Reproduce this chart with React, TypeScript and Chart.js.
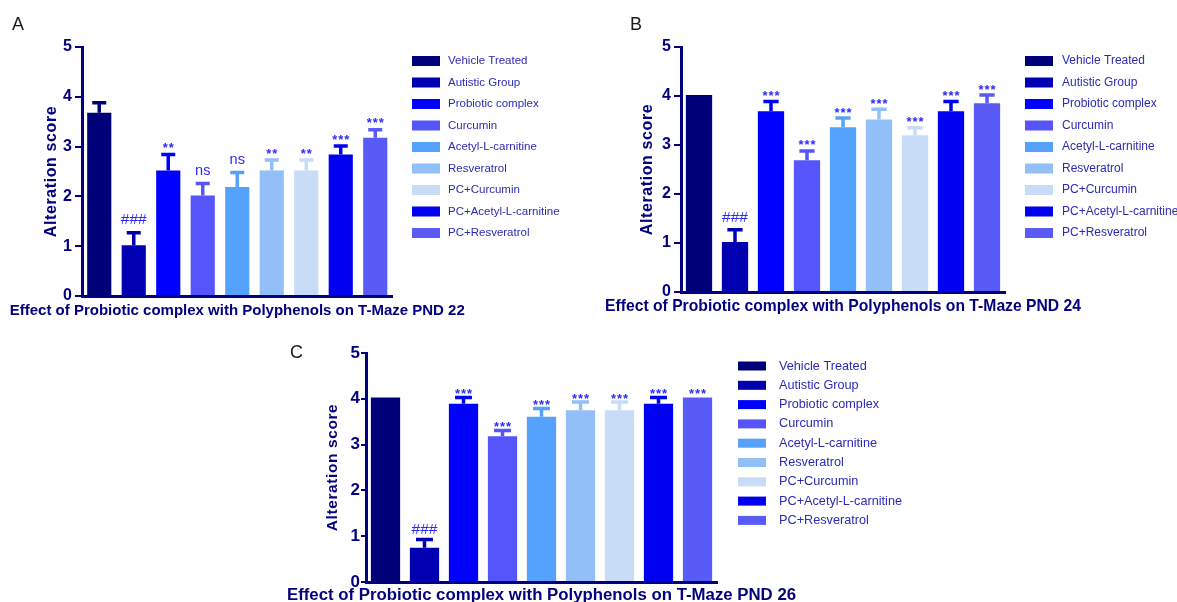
import React, { useEffect, useRef } from "react";
import { Chart, registerables } from "chart.js";

Chart.register(...registerables);

// ---------- data ----------
const categories = [
  "Vehicle Treated",
  "Autistic Group",
  "Probiotic complex",
  "Curcumin",
  "Acetyl-L-carnitine",
  "Resveratrol",
  "PC+Curcumin",
  "PC+Acetyl-L-carnitine",
  "PC+Resveratrol",
];

const barColors = [
  "#000078",
  "#0000b2",
  "#0000ff",
  "#5555fb",
  "#55a2fe",
  "#92bff8",
  "#c8dcf7",
  "#0000f0",
  "#5a5af7",
];

const yTicks = [0, 1, 2, 3, 4, 5];

const meansPND22 = [3.68, 1.02, 2.52, 2.02, 2.19, 2.52, 2.52, 2.84, 3.18];
const semPND22 = [0.2, 0.25, 0.32, 0.24, 0.29, 0.21, 0.21, 0.17, 0.16];
const marksPND22 = ["", "###", "**", "ns", "ns", "**", "**", "***", "***"];

const meansPND24 = [4.02, 1.02, 3.69, 2.69, 3.36, 3.52, 3.2, 3.69, 3.85];
const semPND24 = [0, 0.25, 0.2, 0.19, 0.19, 0.21, 0.15, 0.2, 0.17];
const marksPND24 = ["", "###", "***", "***", "***", "***", "***", "***", "***"];

const meansPND26 = [4.03, 0.75, 3.89, 3.18, 3.61, 3.75, 3.75, 3.89, 4.03];
const semPND26 = [0, 0.18, 0.14, 0.13, 0.18, 0.18, 0.18, 0.14, 0];
const marksPND26 = ["", "###", "***", "***", "***", "***", "***", "***", "***"];

const yAxisTitle = "Alteration score";
const titlePND22 = "Effect of Probiotic complex with Polyphenols on T-Maze PND 22";
const titlePND24 = "Effect of Probiotic complex with Polyphenols on T-Maze PND 24";
const titlePND26 = "Effect of Probiotic complex with Polyphenols on T-Maze PND 26";

// ---------- styling / layout ----------
const NAVY = "#000080";
const MARK_COLOR = "#2a2aff";
const LEGEND_TEXT = "#2b2bb5";
const FONT = "'Liberation Sans', Arial, sans-serif";

type PanelSpec = {
  letter: string;
  title: string;
  means: number[];
  sem: number[];
  marks: string[];
  left: number;
  top: number;
  width: number;
  height: number;
  yAxisWidth: number;
  padTop: number;
  padRight: number;
  xAxisHeight: number;
  barPct: number;
  tickFont: number;
  tickLen: number;
  tickPad: number;
  titleFont: number;
  titleDy: number;
  yTitleFont: number;
  yTitleDx: number;
  legendDx: number;
  legendDy: number;
  legendStep: number;
  boxW: number;
  boxH: number;
  textDx: number;
  legendFont: number;
  letterX: number;
  letterY: number;
  markGap: number;
};

const panels: PanelSpec[] = [
  {
    letter: "A", title: titlePND22, means: meansPND22, sem: semPND22, marks: marksPND22,
    left: 0, top: 0, width: 600, height: 330,
    yAxisWidth: 82, padTop: 47, padRight: 207.5, xAxisHeight: 34, barPct: 0.7,
    tickFont: 16, tickLen: 7, tickPad: 3, titleFont: 15, titleDy: 15,
    yTitleFont: 16, yTitleDx: 30,
    legendDx: 19.5, legendDy: 14, legendStep: 21.5, boxW: 28, boxH: 10, textDx: 36, legendFont: 11.5,
    letterX: 12, letterY: 30, markGap: 6.5,
  },
  {
    letter: "B", title: titlePND24, means: meansPND24, sem: semPND24, marks: marksPND24,
    left: 600, top: 0, width: 577, height: 330,
    yAxisWidth: 81, padTop: 47, padRight: 172, xAxisHeight: 38, barPct: 0.73,
    tickFont: 16, tickLen: 7, tickPad: 3, titleFont: 15.7, titleDy: 15,
    yTitleFont: 16, yTitleDx: 33.5,
    legendDx: 20, legendDy: 14, legendStep: 21.5, boxW: 28, boxH: 10, textDx: 37, legendFont: 12,
    letterX: 30, letterY: 30, markGap: 5.5,
  },
  {
    letter: "C", title: titlePND26, means: meansPND26, sem: semPND26, marks: marksPND26,
    left: 280, top: 330, width: 640, height: 272,
    yAxisWidth: 86, padTop: 23, padRight: 203, xAxisHeight: 20, barPct: 0.75,
    tickFont: 17, tickLen: 5, tickPad: 1, titleFont: 16.8, titleDy: 13,
    yTitleFont: 15.5, yTitleDx: 33,
    legendDx: 21, legendDy: 13, legendStep: 19.3, boxW: 28, boxH: 9, textDx: 41, legendFont: 12.7,
    letterX: 10, letterY: 28, markGap: 3.5,
  },
];

function makeExtras(spec: PanelSpec) {
  return {
    id: "figureExtras",
    afterDatasetsDraw(chart: any) {
      const ctx: CanvasRenderingContext2D = chart.ctx;
      const yScale = chart.scales.y;
      const meta = chart.getDatasetMeta(0);
      meta.data.forEach((el: any, i: number) => {
        const p = el.getProps(["x", "y", "width"], true);
        const color = barColors[i];
        const err = spec.sem[i] || 0;
        const yTop = yScale.getPixelForValue(spec.means[i] + err);
        if (err > 0) {
          ctx.save();
          ctx.strokeStyle = color;
          ctx.lineWidth = 3.5;
          ctx.beginPath();
          ctx.moveTo(p.x, p.y);
          ctx.lineTo(p.x, yTop);
          ctx.moveTo(p.x - p.width * 0.29, yTop);
          ctx.lineTo(p.x + p.width * 0.29, yTop);
          ctx.stroke();
          ctx.restore();
        }
        const m = spec.marks[i];
        if (m) {
          ctx.save();
          const isStar = m.startsWith("*");
          ctx.font = isStar ? `bold 13px ${FONT}` : m === "ns" ? `14.5px ${FONT}` : `15.5px ${FONT}`;
          (ctx as any).letterSpacing = isStar ? "1px" : "0px";
          ctx.fillStyle = MARK_COLOR;
          ctx.textAlign = "center";
          ctx.textBaseline = "alphabetic";
          const mt = ctx.measureText(m);
          const gap = spec.markGap + (isStar ? 0 : 2);
          const baseline = yTop - gap - mt.actualBoundingBoxDescent;
          ctx.fillText(m, p.x + (isStar ? 0.5 : 0), baseline);
          ctx.restore();
        }
      });
    },
    afterDraw(chart: any) {
      const ctx: CanvasRenderingContext2D = chart.ctx;
      const area = chart.chartArea;
      ctx.save();
      // panel letter
      ctx.font = `18px ${FONT}`;
      ctx.fillStyle = "#1a1a1a";
      ctx.textAlign = "left";
      ctx.textBaseline = "alphabetic";
      ctx.fillText(spec.letter, spec.letterX, spec.letterY);

      // y-axis title
      ctx.save();
      ctx.translate(area.left - spec.yTitleDx, (area.top + area.bottom) / 2);
      ctx.rotate(-Math.PI / 2);
      ctx.font = `bold ${spec.yTitleFont}px ${FONT}`;
      (ctx as any).letterSpacing = "0.6px";
      ctx.fillStyle = NAVY;
      ctx.textAlign = "center";
      ctx.textBaseline = "middle";
      ctx.fillText(yAxisTitle, 0, 0);
      ctx.restore();

      // x title
      ctx.font = `bold ${spec.titleFont}px ${FONT}`;
      ctx.fillStyle = NAVY;
      ctx.textAlign = "center";
      ctx.textBaseline = "middle";
      ctx.fillText(spec.title, (area.left + area.right) / 2, area.bottom + spec.titleDy);

      // legend
      const labels: string[] = chart.data.labels;
      ctx.font = `${spec.legendFont}px ${FONT}`;
      ctx.textAlign = "left";
      ctx.textBaseline = "middle";
      labels.forEach((lab, i) => {
        const cy = area.top + spec.legendDy + i * spec.legendStep;
        const bx = area.right + spec.legendDx;
        ctx.fillStyle = barColors[i];
        ctx.fillRect(bx, cy - spec.boxH / 2, spec.boxW, spec.boxH);
        ctx.fillStyle = LEGEND_TEXT;
        ctx.fillText(lab, bx + spec.textDx, cy);
      });
      ctx.restore();
    },
  };
}

function Panel({ spec }: { spec: PanelSpec }) {
  const ref = useRef<HTMLCanvasElement | null>(null);
  useEffect(() => {
    const canvas = ref.current;
    if (!canvas) return;
    const chart = new Chart(canvas, {
      type: "bar",
      data: {
        labels: categories,
        datasets: [
          {
            data: spec.means,
            backgroundColor: barColors,
            borderWidth: 0,
            barPercentage: spec.barPct,
            categoryPercentage: 1,
          },
        ],
      },
      options: {
        responsive: false,
        animation: false,
        devicePixelRatio: 1,
        layout: { padding: { left: 0, top: spec.padTop, right: spec.padRight, bottom: 0 } },
        plugins: { legend: { display: false }, tooltip: { enabled: false }, title: { display: false } },
        scales: {
          x: {
            grid: { display: false },
            ticks: { display: false },
            border: { display: true, color: NAVY, width: 3 },
            afterFit: (s: any) => {
              s.height = spec.xAxisHeight;
            },
          },
          y: {
            min: 0,
            max: 5,
            afterBuildTicks: (s: any) => {
              s.ticks = yTicks.map((v) => ({ value: v }));
            },
            ticks: {
              color: NAVY,
              padding: spec.tickPad,
              font: { family: FONT, size: spec.tickFont, weight: "bold" },
            },
            grid: {
              drawOnChartArea: false,
              drawTicks: true,
              tickLength: spec.tickLen,
              color: NAVY,
              lineWidth: 2,
            },
            border: { display: true, color: NAVY, width: 3 },
            afterFit: (s: any) => {
              s.width = spec.yAxisWidth;
            },
          },
        },
      } as any,
      plugins: [makeExtras(spec)],
    });
    return () => chart.destroy();
  }, [spec]);
  return (
    <canvas
      ref={ref}
      width={spec.width}
      height={spec.height}
      style={{ position: "absolute", left: spec.left, top: spec.top, width: spec.width, height: spec.height }}
    />
  );
}

export default function App() {
  return (
    <div
      style={{
        position: "fixed",
        left: 0,
        top: 0,
        width: 1177,
        height: 602,
        overflow: "hidden",
        background: "#ffffff",
      }}
    >
      {panels.map((p) => (
        <Panel key={p.letter} spec={p} />
      ))}
    </div>
  );
}
